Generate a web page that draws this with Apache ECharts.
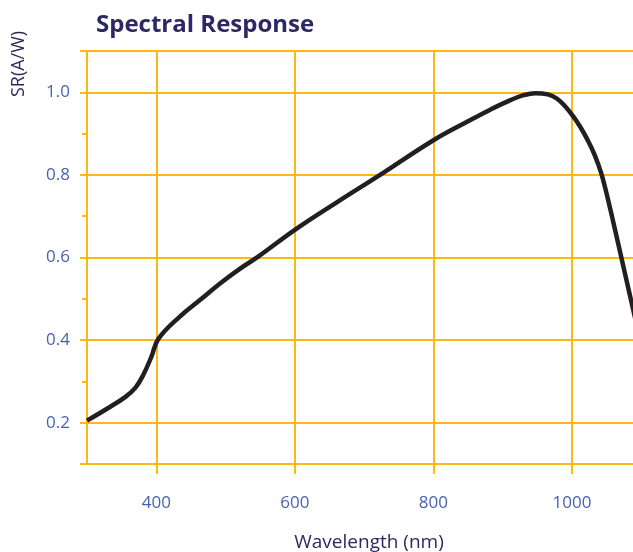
<!DOCTYPE html>
<html>
<head>
<meta charset="utf-8">
<script src="https://cdn.jsdelivr.net/npm/echarts@6/dist/echarts.min.js"></script>
<style>
html,body{margin:0;padding:0;background:#fff;}
#chart{width:633px;height:552px;}
</style>
</head>
<body>
<div id="chart"></div>
<script>
const wavelength = [300, 330, 355, 370, 381, 393, 403, 434, 463, 492, 521, 547, 600, 660, 723, 800, 850, 882, 911, 930, 947, 965, 978, 990, 1002, 1012, 1022, 1032, 1042, 1052, 1062, 1072, 1082, 1092, 1102];
const sr = [0.205, 0.235, 0.262, 0.285, 0.315, 0.36, 0.403, 0.457, 0.497, 0.537, 0.573, 0.602, 0.667, 0.733, 0.80, 0.884, 0.930, 0.958, 0.981, 0.993, 0.998, 0.995, 0.985, 0.966, 0.941, 0.916, 0.886, 0.851, 0.805, 0.740, 0.668, 0.594, 0.520, 0.446, 0.372];
const xTicks = [400, 600, 800, 1000];
const yLabels = [0.2, 0.4, 0.6, 0.8, 1.0];
const yMajorTicks = [0.1, 0.2, 0.4, 0.6, 0.8, 1.0, 1.1];
const yMinorTicks = [0.3, 0.5, 0.7, 0.9];
const titleText = 'Spectral Response';
const xName = 'Wavelength (nm)';
const yName = 'SR(A/W)';

const ORANGE = '#fdb913';
const LABEL = '#4862ad';
const NAVY = '#2c2862';
const FONT = '"Open Sans", sans-serif';

const chart = echarts.init(document.getElementById('chart'), null, {renderer: 'canvas'});
chart.setOption({
  animation: false,
  backgroundColor: '#ffffff',
  title: {
    text: titleText,
    left: 91, top: 8,
    textStyle: {fontFamily: FONT, fontWeight: 'bold', fontSize: 24, color: NAVY}
  },
  grid: {left: 87, right: 0, top: 51, bottom: 88, containLabel: false},
  xAxis: {
    type: 'value', min: 300, max: 1088,
    axisLine: {show: true, lineStyle: {color: ORANGE, width: 2}},
    axisTick: {show: true, customValues: xTicks, length: 10, lineStyle: {color: ORANGE, width: 2}},
    axisLabel: {customValues: xTicks, margin: 31, color: LABEL, fontFamily: FONT, fontSize: 17,
      formatter: v => String(v)},
    splitLine: {show: true, lineStyle: {color: ORANGE, width: 2}}
  },
  yAxis: [{
    type: 'value', min: 0.1, max: 1.1,
    axisLine: {show: true, lineStyle: {color: ORANGE, width: 2}},
    axisTick: {show: true, customValues: yMajorTicks, length: 7, lineStyle: {color: ORANGE, width: 2}},
    axisLabel: {customValues: yLabels, margin: 17, color: LABEL, fontFamily: FONT, fontSize: 17,
      formatter: v => v.toFixed(1)},
    splitLine: {show: true, lineStyle: {color: ORANGE, width: 2}}
  }, {
    type: 'value', min: 0.1, max: 1.1, position: 'left',
    axisLine: {show: false},
    axisTick: {show: true, customValues: yMinorTicks, length: 5, lineStyle: {color: ORANGE, width: 2}},
    axisLabel: {show: false},
    splitLine: {show: false}
  }],
  graphic: [
    {type: 'text', x: 19, y: 64, rotation: Math.PI / 2,
      style: {text: yName, fill: NAVY, font: '18px "Open Sans", sans-serif', align: 'center', verticalAlign: 'middle'}},
    {type: 'text', x: 369, y: 543,
      style: {text: xName, fill: NAVY, font: '19px "Open Sans", sans-serif', align: 'center', verticalAlign: 'middle'}}
  ],
  series: [{
    type: 'line',
    data: wavelength.map((w, i) => [w, sr[i]]),
    showSymbol: false,
    smooth: 0.4,
    lineStyle: {color: '#231f20', width: 4.5},
    z: 5
  }]
});
</script>
</body>
</html>
